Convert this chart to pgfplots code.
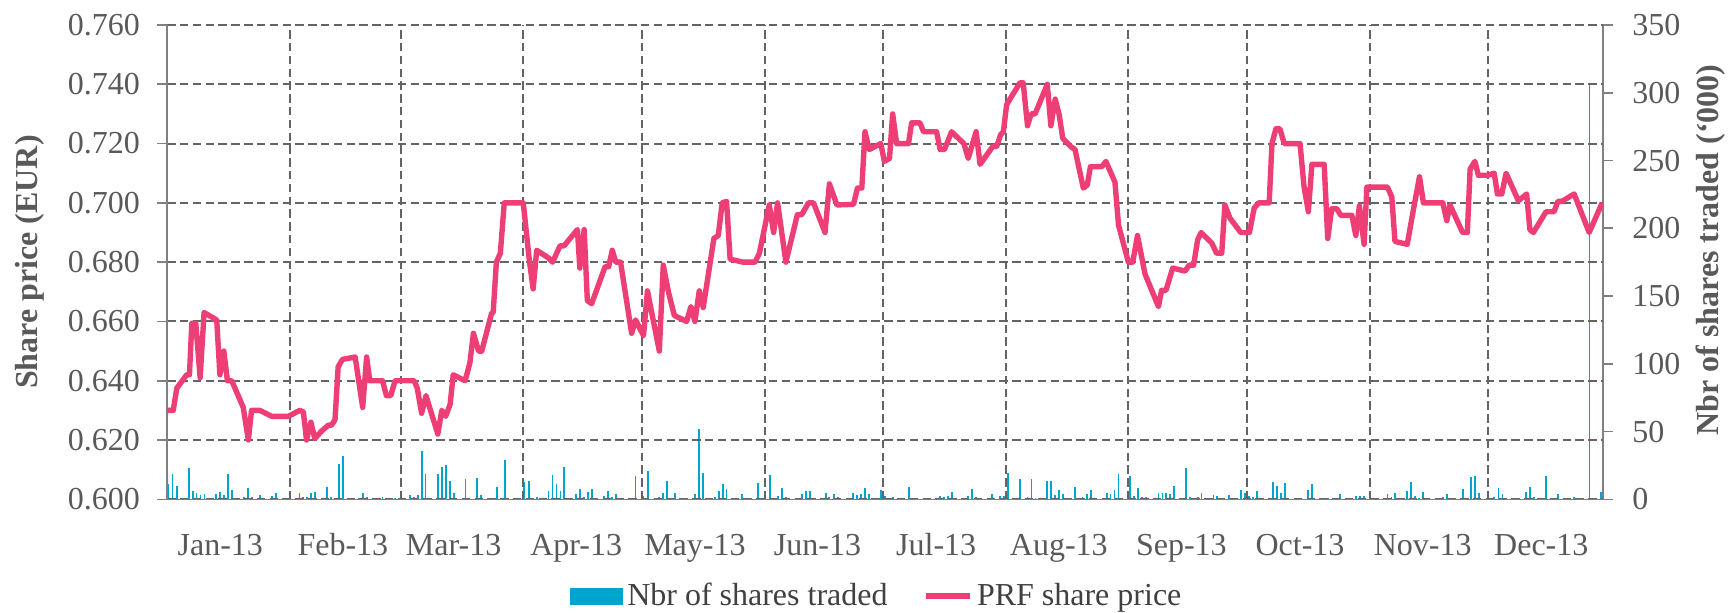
\documentclass[border=0pt]{standalone}
\usepackage{fontspec}
\setmainfont{Liberation Serif}
\usepackage{pgfplots}
\pgfplotsset{compat=1.18}

\definecolor{barblue}{RGB}{0,165,206}
\definecolor{pricepink}{RGB}{238,62,118}
\definecolor{gridgray}{RGB}{100,100,100}
\definecolor{axisgray}{RGB}{128,128,128}
\definecolor{labelgray}{RGB}{89,89,89}
\definecolor{legendgray}{RGB}{64,64,64}

\newcommand{\chartfont}{\fontsize{16}{19}\selectfont}

% daily volume, thousands of shares (x = day of 2013, 1 Jan = 0)
\pgfplotstableread{
day vol
0.3 11
1.3 19
2.4 10
5.4 23
6.4 6
7.4 4.4
8.4 3
9.4 4
12.3 4
13.3 5.7
14.3 3
15.3 19
16.3 7
19.4 1.5
20.4 8.4
21.4 2
23.4 3
26.4 2.5
27.4 4.4
29.3 0.7
33.4 4.4
34.4 2
35.4 2
36.4 5
37.3 5.7
40.3 9.3
41.3 2
42.4 0.7
43.4 26
44.4 32
48.5 0.7
49.4 4.4
50.4 1.5
54.4 1.5
57.6 0.7
61.4 3
62.4 1.5
63.4 3
64.4 36
65.3 19
68.4 19
69.4 24
70.4 25
71.4 13.5
72.4 4.4
75.4 15
76.4 0.7
78.4 16
79.4 3
83.4 9.3
85.4 29
90.2 12.5
91.4 13.5
93.4 1.5
96.4 6
97.4 17.7
98.4 11
99.4 6.4
100.4 23.6
103.4 3.7
104.3 7.9
105.4 1.5
106.4 5.2
107.4 7.9
110.4 2.5
111.4 6
112.4 1.5
113.5 3.9
118.4 17.2
120.4 2.5
121.5 21
124.4 1.5
125.3 4.9
126.3 13.5
128.4 4.9
131.3 0.7
133.4 3.7
134.4 51.7
135.5 19.7
138.5 2
139.4 6
140.4 11.3
141.4 7.6
145.4 3.7
149.4 12.3
152.4 17.7
153.4 0.7
154.5 2.5
155.5 8.1
156.4 2
159.4 1.2
160.4 3.7
161.4 6.4
162.4 6.4
166.5 4.4
167.4 2
168.5 3.9
169.5 1.5
173.3 4.4
174.3 3
175.3 3.7
176.4 8.1
177.4 3.9
180.4 6.9
181.4 2.7
183.4 1.5
187.5 8.9
188.5 0.7
195.4 2.7
196.4 1.5
197.4 2.7
198.4 5.7
202.5 2.5
203.5 7.6
204.5 2
205.5 1.2
208.5 3.7
210.5 2.7
211.5 2.7
212.5 19.2
215.6 15
217.5 2
218.5 15
219.5 1.2
222.4 13.5
223.4 13.5
224.5 3
225.5 6.9
226.5 3.9
229.5 9.3
231.4 2
232.5 3.9
233.5 6.9
236.5 1.2
237.5 4.4
238.5 3.9
239.5 6.9
240.5 18.5
243.5 17.5
244.5 2.5
245.5 8.1
246.5 2
247.5 2
250.6 4.9
251.6 4.9
252.6 4.4
253.5 3.9
254.5 10
257.5 23
258.5 2
260.5 2
261.5 4.4
264.5 3
265.5 2.5
268.5 3
271.5 6.9
272.5 4.4
273.5 2.5
274.5 2
275.5 6
278.5 1.2
279.6 12.5
280.5 9.8
281.5 4.4
282.5 11.8
288.5 6.9
289.5 11
293.5 1.2
296.5 3.9
300.5 2.5
301.5 2.5
302.5 2.5
308.5 3.9
309.5 2
310.5 4.4
313.5 6.4
314.5 12.5
315.5 2.7
316.5 1.2
317.5 5.2
322.5 2
323.5 3.9
327.5 7.6
329.6 16.7
330.6 17.5
331.6 4.9
334.5 1.2
335.5 2
336.6 8.1
337.6 3.9
343.6 5.7
344.6 9.3
345.6 2
348.6 17.5
351.6 3.9
355.7 1.7
359.6 306
362.5 5.6
}\voltable

% closing share price, EUR
\pgfplotstableread{
day price
0.0 0.630
1.5 0.630
2.4 0.6375
4.9 0.642
5.6 0.642
6.2 0.6594
7.2 0.6594
8.3 0.641
9.3 0.663
12.5 0.6605
13.3 0.642
14.3 0.650
15.2 0.640
16.3 0.640
19.2 0.631
20.5 0.620
21.3 0.630
23.4 0.630
26.4 0.628
30.6 0.628
33.5 0.630
34.4 0.6295
35.2 0.620
36.3 0.626
37.3 0.6205
39.0 0.623
40.7 0.625
41.5 0.625
42.4 0.6268
43.2 0.6447
44.3 0.6472
47.5 0.648
49.4 0.631
50.4 0.648
51.2 0.640
54.4 0.640
55.4 0.635
56.5 0.635
57.6 0.640
62.4 0.640
63.2 0.6375
64.3 0.629
65.4 0.635
68.4 0.622
69.4 0.630
70.4 0.628
71.5 0.632
72.3 0.642
75.3 0.640
76.5 0.646
77.4 0.656
78.7 0.650
79.5 0.650
82.0 0.6628
82.4 0.663
83.2 0.680
84.2 0.683
85.2 0.700
90.0 0.700
91.5 0.681
92.5 0.671
93.4 0.684
96.3 0.6815
97.4 0.680
99.3 0.6855
100.3 0.6855
103.7 0.691
104.3 0.678
105.4 0.691
106.2 0.667
107.3 0.666
110.7 0.6785
111.6 0.6785
112.5 0.684
113.4 0.680
114.6 0.680
117.4 0.656
118.4 0.6605
120.4 0.6552
121.4 0.6703
124.4 0.650
125.4 0.679
126.7 0.670
128.2 0.662
131.3 0.660
132.4 0.665
133.4 0.660
134.5 0.6703
135.5 0.6647
138.2 0.688
139.3 0.689
140.3 0.700
141.4 0.7005
142.3 0.681
145.6 0.680
148.6 0.680
149.7 0.683
152.2 0.6993
153.3 0.690
154.3 0.700
156.4 0.680
159.3 0.696
160.4 0.696
162.1 0.700
163.4 0.700
166.3 0.690
167.4 0.7064
169.3 0.6993
173.5 0.6995
174.5 0.705
175.6 0.705
176.4 0.724
177.5 0.718
180.4 0.720
181.3 0.714
182.6 0.715
183.4 0.730
184.4 0.720
187.4 0.720
188.2 0.727
190.3 0.727
191.2 0.724
194.5 0.724
195.4 0.718
196.5 0.718
198.3 0.724
201.4 0.720
202.5 0.715
204.5 0.724
205.5 0.713
208.7 0.719
209.7 0.719
210.7 0.723
211.4 0.724
212.2 0.733
213.5 0.736
215.6 0.7405
216.4 0.7405
217.5 0.726
218.4 0.730
219.4 0.730
222.5 0.740
223.4 0.726
224.5 0.735
225.5 0.7297
226.4 0.7218
228.4 0.719
229.5 0.718
231.6 0.705
232.6 0.706
233.4 0.7122
236.3 0.7122
237.3 0.714
239.6 0.707
240.5 0.6925
243.0 0.680
244.1 0.680
245.3 0.689
247.2 0.676
250.6 0.665
251.4 0.6705
252.5 0.6705
254.2 0.678
257.3 0.677
258.4 0.679
259.5 0.679
260.5 0.6875
261.4 0.690
264.1 0.6864
265.3 0.683
266.6 0.683
267.4 0.6993
268.7 0.6948
271.4 0.690
273.6 0.690
274.8 0.6982
275.9 0.700
278.6 0.700
279.3 0.720
280.3 0.725
281.3 0.725
282.4 0.720
286.4 0.720
287.4 0.7055
288.5 0.697
289.4 0.713
292.5 0.713
293.4 0.688
294.4 0.698
295.7 0.698
296.7 0.6958
299.5 0.6958
300.5 0.689
301.4 0.699
302.6 0.686
303.3 0.7053
308.5 0.7053
309.6 0.702
310.4 0.687
313.5 0.686
314.9 0.6965
316.6 0.7088
317.6 0.700
322.5 0.700
323.5 0.694
324.3 0.6993
327.5 0.690
328.7 0.690
329.4 0.7114
330.6 0.714
331.5 0.7093
333.8 0.7093
335.5 0.710
336.3 0.703
337.4 0.703
338.5 0.710
341.6 0.7007
343.7 0.703
344.5 0.691
345.4 0.690
348.6 0.697
350.6 0.697
351.6 0.7005
352.6 0.7005
355.7 0.703
359.5 0.690
362.8 0.700
}\pricetable

\begin{document}
\begin{tikzpicture}
\path[use as bounding box] (-83.65pt,-56.35pt) rectangle (780.85pt,249.65pt);

% volume, right axis
\begin{axis}[
  scale only axis, width=717.85pt, height=237.15pt,
  xmin=0, xmax=363, ymin=0, ymax=350,
  axis x line=none, axis y line*=right,
  axis line style={-, draw=axisgray, line width=0.8pt},
  ytick={0,50,100,150,200,250,300,350},
  tick align=outside, major tick length=5pt,
  ytick style={draw=axisgray, line width=0.8pt},
  tick label style={font=\chartfont, text=labelgray},
  yticklabel style={anchor=west, inner sep=0pt},
  yticklabel shift=9.5pt,
  /pgf/number format/assume math mode=true,
  ylabel={\textbf{Nbr of shares traded (`000)}},
  every axis y label/.style={at={(axis description cs:1.0752,0.5256)}, rotate=90, anchor=center, font=\chartfont, text=labelgray},
]
\addplot[ycomb, no marks, color=barblue, line width=0.9pt] table[x=day, y=vol] {\voltable};
\end{axis}

% price, left axis
\begin{axis}[
  scale only axis, width=717.85pt, height=237.15pt,
  xmin=0, xmax=363, ymin=0.6, ymax=0.76,
  axis x line*=bottom, axis y line*=left,
  axis line style={-, draw=axisgray, line width=0.8pt},
  ytick={0.60,0.62,0.64,0.66,0.68,0.70,0.72,0.74,0.76},
  /pgf/number format/fixed,
  /pgf/number format/fixed zerofill,
  /pgf/number format/precision=3,
  /pgf/number format/assume math mode=true,
  tick align=outside, major tick length=5pt,
  ytick style={draw=axisgray, line width=0.8pt},
  xtick={13.4,44.4,72.4,103.4,133.4,164.4,194.4,225.4,256.4,286.4,317.4,347.4},
  xticklabels={Jan-13,Feb-13,Mar-13,Apr-13,May-13,Jun-13,Jul-13,Aug-13,Sep-13,Oct-13,Nov-13,Dec-13},
  xtick style={draw=none},
  minor xtick={31,59,90,120,151,181,212,243,273,304,334},
  xminorgrids=true, ymajorgrids=true,
  grid style={draw=gridgray, line width=1pt, dash pattern=on 4.2pt off 2.2pt},
  minor grid style={draw=gridgray, line width=1pt, dash pattern=on 4.2pt off 2.2pt},
  tick label style={font=\chartfont, text=labelgray},
  xticklabel style={anchor=base, yshift=-22.85pt},
  yticklabel style={anchor=east, inner sep=0pt},
  yticklabel shift=8.5pt,
  ylabel={\textbf{Share price (EUR)}},
  every axis y label/.style={at={(axis description cs:-0.0956,0.5003)}, rotate=90, anchor=center, font=\chartfont, text=labelgray},
  legend columns=2,
  legend style={at={(0.495,-0.2039)}, anchor=center, draw=none, fill=none,
    font=\chartfont, text=legendgray,
    /tikz/every even column/.append style={column sep=16pt}},
]
\addlegendimage{legend image code/.code={\fill[barblue] (0pt,-4pt) rectangle (26pt,4pt);}}
\addlegendentry{Nbr of shares traded}
\addplot[color=pricepink, line width=2.7pt, line join=round, no marks,
  legend image code/.code={\draw[pricepink, line width=2.7pt] (0pt,0pt) -- (22pt,0pt);}]
  table[x=day, y=price] {\pricetable};
\addlegendentry{PRF share price}
\end{axis}
\end{tikzpicture}
\end{document}
